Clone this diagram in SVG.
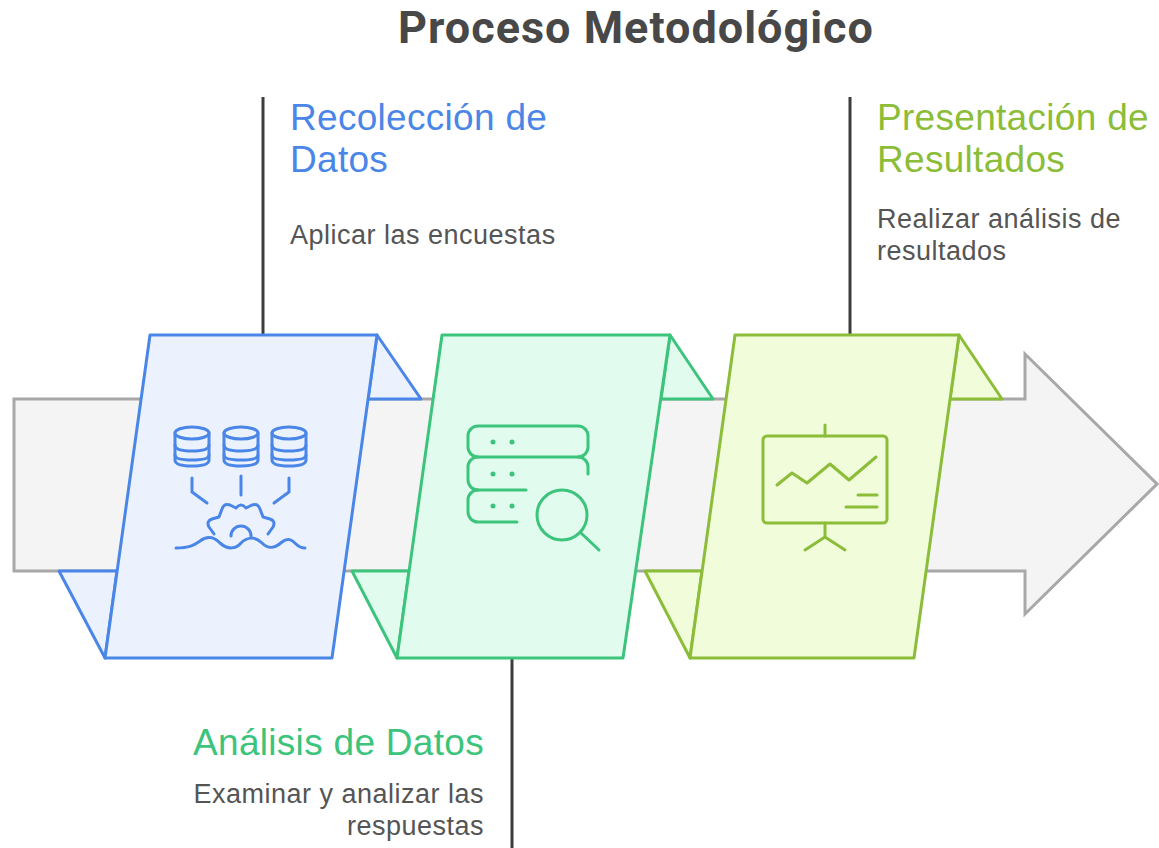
<svg xmlns="http://www.w3.org/2000/svg" width="1159" height="848" viewBox="0 0 1159 848">
<style>
.title{font-family:Roboto,"Liberation Sans",sans-serif;font-weight:bold;font-size:45px;letter-spacing:1px;fill:#484848}
.head{font-family:"Liberation Sans",Arial,sans-serif;font-size:37px;letter-spacing:0.3px}
.desc{font-family:"Liberation Sans",Arial,sans-serif;font-size:27px;letter-spacing:0.5px;fill:#555555}
.conn{stroke:#3d3d3d;stroke-width:3;fill:none}
.icon{fill:none;stroke-width:3;stroke-linecap:round;stroke-linejoin:round}
.blue{stroke:#4a86e8;fill:#ebf2fe;stroke-width:3;stroke-linejoin:round}
.green{stroke:#3cc47c;fill:#e1fcef;stroke-width:3;stroke-linejoin:round}
.lime{stroke:#8bbd39;fill:#f1fcdb;stroke-width:3;stroke-linejoin:round}
</style>
<rect width="1159" height="848" fill="#ffffff"/>
<text class="title" x="636" y="43" text-anchor="middle">Proceso Metodológico</text>
<g id="arrow">
<path d="M14,399 H1025 V354 L1157,484 L1025,614 V571 H14 Z" fill="#f4f4f4" stroke="#a8a8a8" stroke-width="3" stroke-linejoin="miter"/>
</g>
<g id="connectors">
<line class="conn" x1="263" y1="97" x2="263" y2="335"/>
<line class="conn" x1="512" y1="658" x2="512" y2="848"/>
<line class="conn" x1="850" y1="97" x2="850" y2="335"/>
</g>
<g id="node-recoleccion">
<path class="blue" d="M377,335 L421,399 L368,399 Z"/>
<path class="blue" d="M59,571 L117,571 L105,658 Z"/>
<path class="blue" d="M150,335 L377,335 L332,658 L105,658 Z"/>
<g class="icon" stroke="#4a86e8">
<g id="db1">
<ellipse cx="192" cy="433" rx="17" ry="6"/>
<path d="M175,433 V460 Q175,466 192,466 Q209,466 209,460 V433"/>
<path d="M175,445 Q175,451 192,451 Q209,451 209,445"/>
<path d="M175,455 Q175,460 192,460 Q209,460 209,455"/>
</g>
<use href="#db1" x="49"/>
<use href="#db1" x="97"/>
<path d="M192,478 V492 L207,503"/>
<path d="M241,476 V495"/>
<path d="M289,478 V492 L274,503"/>
<path d="M214,534 L209,527 Q206,521 212,519 L219,517 L222,509 Q224,503 230,505 L236,508 Q241,502 246,508 L252,505 Q258,503 260,509 L263,517 L270,519 Q276,521 273,527 L268,534"/>
<path d="M231,536 A10,10 0 0 1 251,536"/>
<path d="M176,548 C190,548 194,545 200,541 C208,535 214,537 220,543 C228,550 236,549 241,543 C247,537 255,536 262,543 C268,549 274,549 282,542 C288,537 292,540 296,544 C299,547 302,548 305,548"/>
</g>
<text class="head" fill="#4a86e8" x="290" y="130">Recolección de</text>
<text class="head" fill="#4a86e8" x="290" y="172">Datos</text>
<text class="desc" x="290" y="244">Aplicar las encuestas</text>
</g>
<g id="node-analisis">
<path class="green" d="M670,335 L713,399 L661,399 Z"/>
<path class="green" d="M352,571 L409,571 L397,658 Z"/>
<path class="green" d="M442,335 L670,335 L623,658 L397,658 Z"/>
<g class="icon" stroke="#3cc47c">
<path d="M478,426 H578 A10,10 0 0 1 588,436 V447 A10,10 0 0 1 578,457 H478 A10,10 0 0 1 468,447 V436 A10,10 0 0 1 478,426 Z"/>
<path d="M578,457 A10,10 0 0 1 588,467 V474"/>
<path d="M478,457 A10,10 0 0 0 468,467 V480 A10,10 0 0 0 478,490 H526"/>
<path d="M478,490 A10,10 0 0 0 468,500 V512 A10,10 0 0 0 478,522 H517"/>
<circle cx="562" cy="515" r="25"/>
<path d="M581,533 L599,550"/>
</g>
<g fill="#3cc47c">
<circle cx="493" cy="442" r="2.5"/><circle cx="512" cy="442" r="2.5"/>
<circle cx="493" cy="474" r="2.5"/><circle cx="512" cy="474" r="2.5"/>
<circle cx="493" cy="506" r="2.5"/><circle cx="512" cy="506" r="2.5"/>
</g>
<text class="head" fill="#3cc47c" x="484" y="755" text-anchor="end">Análisis de Datos</text>
<text class="desc" x="484" y="803" text-anchor="end">Examinar y analizar las</text>
<text class="desc" x="484" y="835" text-anchor="end">respuestas</text>
</g>
<g id="node-presentacion">
<path class="lime" d="M959,335 L1002,399 L950,399 Z"/>
<path class="lime" d="M645,571 L702,571 L690,658 Z"/>
<path class="lime" d="M735,335 L959,335 L914,658 L690,658 Z"/>
<g class="icon" stroke="#8bbd39">
<rect x="763" y="436" width="124" height="87" rx="4"/>
<path d="M825,425 V436"/>
<path d="M825,523 V537 M805,550 L825,537 L845,550"/>
<path d="M777,485 L792,473 L807,483 L830,464 L849,480 L876,457"/>
<path d="M858,495 H877 M846,507 H877"/>
</g>
<text class="head" fill="#8bbd39" x="877" y="130">Presentación de</text>
<text class="head" fill="#8bbd39" x="877" y="172">Resultados</text>
<text class="desc" x="877" y="228">Realizar análisis de</text>
<text class="desc" x="877" y="260">resultados</text>
</g>
</svg>
